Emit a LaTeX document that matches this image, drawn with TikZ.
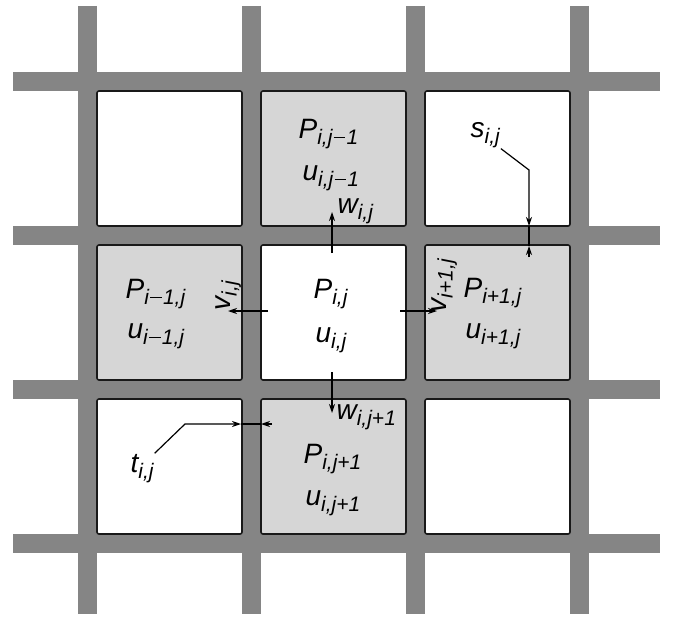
\documentclass[tikz,border=0pt]{standalone}
\usepackage{fontspec}
\setmainfont{Liberation Sans}
\usetikzlibrary{arrows.meta}
\definecolor{barc}{gray}{0.52}
\definecolor{cellc}{gray}{0.84}
\newcommand\sbs[1]{\textsubscript{\fontsize{21}{21}\selectfont#1}}
\newcommand\mn{\kern0.06em\rule[0.3em]{0.55em}{0.075em}\kern0.06em}

\begin{document}
\begin{tikzpicture}[x=1pt,y=-1pt,font=\fontsize{28}{34}\selectfont\itshape,
  >={Stealth[length=9pt,width=6pt]},line width=1.2pt,
  bar/.style={draw=barc,line width=19pt},
  cell/.style={draw=black!90,line width=1.6pt,rounded corners=2pt,minimum width=145pt,minimum height=135pt,inner sep=0pt},
  lbl/.style={anchor=base west,inner sep=0pt},
  vlbl/.style={lbl,rotate=90}]
  \useasboundingbox (0,0) rectangle (674,618);
  \foreach \x in {87.5,251.5,415.5,579.5} \draw[bar] (\x,6) -- (\x,614);
  \foreach \y in {81.5,235.5,389.5,543.5} \draw[bar] (13,\y) -- (660,\y);
  \foreach \c in {0,1,2}{\foreach \r in {0,1,2}{
    \pgfmathtruncatemacro\odd{mod(\c+\r,2)}
    \ifnum\odd=1 \def\cf{cellc}\else\def\cf{white}\fi
    \node[cell,fill=\cf] (c\c\r) at (169.5+164*\c,158.5+154*\r) {};
  }}
  \node[lbl] (ptop) at (298,138) {P\sbs{i,j\mn1}};
  \node[lbl] (utop) at (302,180) {u\sbs{i,j\mn1}};
  \node[lbl] (pleft) at (125,298) {P\sbs{i\mn1,j}};
  \node[lbl] (uleft) at (127,338) {u\sbs{i\mn1,j}};
  \node[lbl] (pmid) at (313,298) {P\sbs{i,j}};
  \node[lbl] (umid) at (315,342) {u\sbs{i,j}};
  \node[lbl] (pright) at (463,297) {P\sbs{i+1,j}};
  \node[lbl] (uright) at (465,338) {u\sbs{i+1,j}};
  \node[lbl] (pbot) at (303,463) {P\sbs{i,j+1}};
  \node[lbl] (ubot) at (305,505) {u\sbs{i,j+1}};
  \node[lbl] (wup) at (337,213) {w\sbs{i,j}};
  \node[lbl] (wdown) at (336,419) {w\sbs{i,j+1}};
  \node[vlbl] (vleft) at (230,311) {v\sbs{i,j}};
  \node[vlbl] (vright) at (446,313) {v\sbs{i+1,j}};
  \node[lbl] (s) at (470,137) {s\sbs{i,j}};
  \node[lbl] (t) at (130,472) {t\sbs{i,j}};
  \coordinate (wa) at (332,253); \coordinate (wb) at (332,212);
  \coordinate (wc) at (332,372); \coordinate (wd) at (332,413);
  \coordinate (va) at (268,311); \coordinate (vb) at (228,311);
  \coordinate (vc) at (400,311); \coordinate (vd) at (437,311);
  \coordinate (sk) at (529,170); \coordinate (sa) at (529,226);
  \coordinate (sb) at (529,246); \coordinate (se) at (529,257);
  \coordinate (tk) at (185,424); \coordinate (ta) at (241,424);
  \coordinate (tb) at (261,424); \coordinate (te) at (272,424);
  \draw[->] (wa) -- (wb); \draw[->] (wc) -- (wd);
  \draw[->] (va) -- (vb); \draw[->] (vc) -- (vd);
  \draw[->] (s.south east) -- (sk) -- (sa); \draw (sa) -- (sb); \draw[->] (se) -- (sb);
  \draw[->] (t.north east) -- (tk) -- (ta); \draw (ta) -- (tb); \draw[->] (te) -- (tb);
\end{tikzpicture}
\end{document}
